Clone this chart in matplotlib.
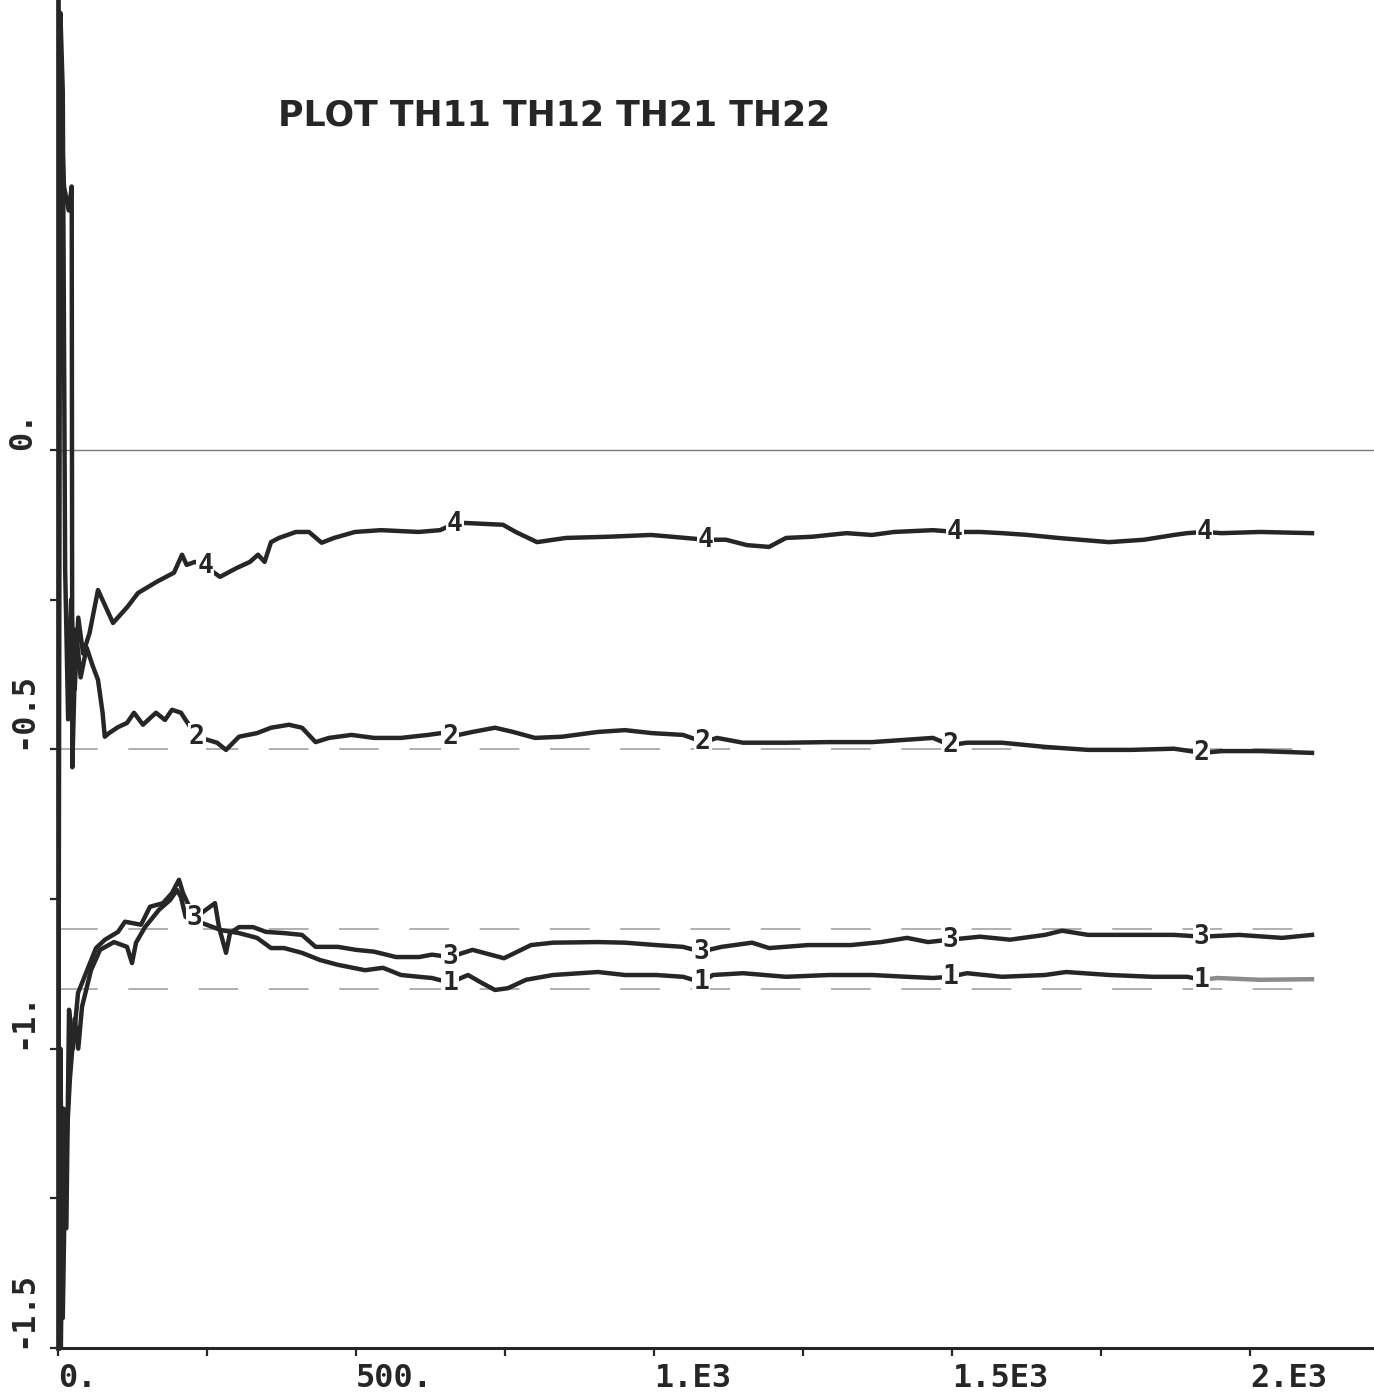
import numpy as np
import matplotlib
matplotlib.use('Agg')
from matplotlib import pyplot as plt

# Estimates of TH11..TH22 against iteration
th11_x = [0, 4, 8, 12, 20, 28, 34, 40.3, 55.4, 70.5, 94.0, 115.8, 124.2, 130.9, 146.0, 169.5,
          187.9, 199.7, 206.4, 214.1, 273.5, 303.7, 333.9, 357.4, 379.2, 409.4, 439.6, 469.8,
          515.1, 545.3, 575.5, 605.7, 627.5, 657.7, 687.9, 710.6, 733.2, 755.0, 785.2, 830.5,
          906.0, 951.3, 1003.4, 1048.7, 1078.9, 1098.9, 1149.3, 1221.5, 1293.6, 1365.8, 1424.5,
          1468.1, 1496.6, 1525.2, 1583.9, 1656.0, 1691.3, 1764.3, 1836.6, 1894.3, 1919.5, 1944.6,
          2016.8, 2104]
th11_y = [-1.58, -1.0, -1.45, -1.2, -1.05, -0.95, -1.0, -0.930, -0.869, -0.835, -0.822, -0.830,
          -0.857, -0.823, -0.797, -0.768, -0.752, -0.735, -0.747, -0.780, -0.802, -0.807, -0.815,
          -0.832, -0.832, -0.840, -0.852, -0.860, -0.869, -0.865, -0.877, -0.880, -0.882, -0.890,
          -0.877, -0.890, -0.902, -0.899, -0.885, -0.877, -0.872, -0.877, -0.877, -0.880, -0.889,
          -0.877, -0.874, -0.880, -0.877, -0.877, -0.880, -0.882, -0.880, -0.874, -0.880, -0.877,
          -0.872, -0.877, -0.880, -0.880, -0.885, -0.882, -0.885, -0.884]

th12_x = [0, 4, 10, 18, 23, 24, 30, 38, 48, 58, 67.1, 74.8, 78.5, 85.6, 100.7, 115.8, 127.5,
          142.6, 154.4, 164.4, 179.5, 191.3, 206.4, 214.1, 233.2, 266.8, 281.9, 303.7, 333.9,
          357.4, 387.6, 409.4, 432.2, 454.7, 492.4, 530.2, 575.5, 620.8, 642.6, 657.7, 695.5,
          733.2, 763.4, 800.3, 845.6, 906.0, 951.3, 996.6, 1048.7, 1083.1, 1105.7, 1149.3, 1221.5,
          1293.6, 1365.8, 1424.5, 1468.1, 1496.6, 1525.2, 1583.9, 1656.0, 1728.2, 1800.3, 1872.5,
          1919.5, 1953.0, 2016.8, 2104]
th12_y = [0.0, 0.60, 0.44, 0.40, 0.44, -0.53, -0.30, -0.38, -0.33, -0.36, -0.384, -0.439,
          -0.479, -0.473, -0.463, -0.456, -0.439, -0.459, -0.448, -0.439, -0.451, -0.434, -0.439,
          -0.451, -0.479, -0.489, -0.501, -0.479, -0.473, -0.464, -0.459, -0.464, -0.488, -0.481,
          -0.476, -0.481, -0.481, -0.476, -0.473, -0.479, -0.471, -0.464, -0.471, -0.481, -0.479,
          -0.471, -0.468, -0.473, -0.476, -0.488, -0.481, -0.489, -0.489, -0.488, -0.488, -0.484,
          -0.481, -0.493, -0.489, -0.489, -0.496, -0.501, -0.501, -0.499, -0.506, -0.503, -0.503,
          -0.506]

th21_x = [0, 4, 9, 14, 18.5, 25, 33.6, 63.8, 78.9, 100.7, 112.4, 139.3, 154.4, 176.2, 191.3,
          203.0, 209.7, 229.0, 263.4, 270.1, 281.9, 288.6, 303.7, 327.2, 349.0, 379.2, 409.4,
          432.2, 469.8, 500.0, 530.2, 567.1, 605.7, 627.5, 657.7, 695.5, 748.3, 793.6, 830.5,
          906.0, 951.3, 1003.4, 1048.7, 1078.9, 1113.3, 1164.4, 1193.0, 1258.4, 1330.5, 1380.9,
          1424.5, 1459.7, 1496.6, 1547.0, 1597.3, 1656.0, 1684.6, 1728.2, 1800.3, 1872.5, 1919.5,
          1981.5, 2053.7, 2104]
th21_y = [-1.2, -1.58, -1.1, -1.3, -0.935, -1.0, -0.907, -0.832, -0.818, -0.805, -0.788,
          -0.793, -0.763, -0.757, -0.740, -0.718, -0.740, -0.782, -0.757, -0.797, -0.840, -0.807,
          -0.797, -0.797, -0.805, -0.807, -0.810, -0.830, -0.830, -0.835, -0.838, -0.847, -0.847,
          -0.843, -0.847, -0.835, -0.849, -0.827, -0.823, -0.822, -0.823, -0.827, -0.830, -0.838,
          -0.830, -0.823, -0.832, -0.827, -0.827, -0.822, -0.815, -0.822, -0.818, -0.813, -0.818,
          -0.810, -0.803, -0.810, -0.810, -0.810, -0.813, -0.810, -0.815, -0.810]

th22_x = [0, 4, 8, 12, 17, 22, 28, 34, 42, 52.9, 67.1, 92.3, 116.6, 134.2, 166.1, 194.6, 208.1,
          215.8, 229.9, 247.7, 271.8, 300.3, 322.1, 335.6, 346.6, 357.4, 370.8, 399.3, 421.1,
          442.3, 463.1, 498.3, 541.9, 605.0, 641.0, 661.1, 682.9, 746.6, 768.0, 803.7, 852.3,
          923.7, 995.0, 1030.2, 1086.6, 1120.8, 1156.0, 1193.0, 1221.5, 1265.1, 1323.0, 1365.8,
          1402.7, 1468.1, 1506.7, 1547.0, 1583.9, 1627.5, 1677.9, 1763.4, 1822.1, 1872.5, 1894.3,
          1922.8, 1952.3, 2016.8, 2104]
th22_y = [-1.5, 0.73, 0.60, -0.20, -0.45, -0.25, -0.40, -0.28, -0.34, -0.306, -0.234, -0.289,
          -0.262, -0.239, -0.220, -0.205, -0.175, -0.192, -0.187, -0.195, -0.212, -0.197, -0.187,
          -0.175, -0.187, -0.154, -0.147, -0.137, -0.137, -0.155, -0.147, -0.137, -0.134, -0.137,
          -0.134, -0.125, -0.122, -0.125, -0.137, -0.154, -0.147, -0.145, -0.142, -0.145, -0.150,
          -0.150, -0.159, -0.162, -0.147, -0.145, -0.139, -0.142, -0.137, -0.134, -0.137, -0.137,
          -0.139, -0.142, -0.147, -0.154, -0.150, -0.142, -0.139, -0.137, -0.139, -0.137, -0.139]

# Curve number labels written along each trace
lab1_x = [658, 1079, 1497, 1919]
lab2_x = [233, 658, 1082, 1497, 1919]
lab3_x = [229, 658, 1079, 1497, 1919]
lab4_x = [247, 666, 1086, 1505, 1924]

# Reference (true) values shown dashed
true_vals = [-0.5, -0.8, -0.9]

xticks = [0, 500, 1000, 1500, 2000]
xticklabels = ['0.', '500.', '1.E3', '1.5E3', '2.E3']
yticks = [0, -0.5, -1.0, -1.5]
yticklabels = ['0.', '-0.5', '-1.', '-1.5']

W, H = 1374, 1396
fig = plt.figure(figsize=(W / 100, H / 100), dpi=100)
ax = fig.add_axes([58 / W, 48 / H, 1316 / W, 1348 / H])
ax.set_xlim(0, 2208)
ax.set_ylim(-1.5, 0.7515)

ink = '#262626'

# Zero line and dashed true values
ax.axhline(0, color='#7a7a7a', lw=1.0, zorder=1)
ax.hlines(true_vals, 0, 2120, colors='#9a9a9a', linestyles=(0, (26, 20)), lw=1.1, zorder=1)

curves = [(th11_x, th11_y, lab1_x, '1'),
          (th12_x, th12_y, lab2_x, '2'),
          (th21_x, th21_y, lab3_x, '3'),
          (th22_x, th22_y, lab4_x, '4')]

for cx, cy, lx, name in curves:
    cx = np.array(cx)
    cy = np.array(cy)
    if name == '1':
        # last stretch of trace 1 came out faint on the plotter
        cut = cx >= 1919.5
        ax.plot(cx[cx <= 1919.5], cy[cx <= 1919.5], color=ink, lw=3.2, zorder=3)
        ax.plot(cx[cut], cy[cut], color='#8c8c8c', lw=3.2, zorder=3)
    else:
        ax.plot(cx, cy, color=ink, lw=3.2, zorder=3)
    for xl in lx:
        ax.text(xl, np.interp(xl, cx, cy), name, ha='center', va='center', fontsize=19,
                family='DejaVu Sans Mono', fontweight='bold', color=ink, zorder=4,
                bbox=dict(facecolor='white', edgecolor='none', pad=0.5))

# Axes styling
for s in ['top', 'right']:
    ax.spines[s].set_visible(False)
ax.spines['left'].set_linewidth(3.4)
ax.spines['left'].set_color(ink)
ax.spines['bottom'].set_linewidth(2.2)
ax.spines['bottom'].set_color(ink)

ax.set_xticks(xticks)
ax.set_xticklabels(xticklabels, ha='left', fontsize=23, family='DejaVu Sans Mono',
                   fontweight='bold', color=ink)
ax.set_xticks([250, 750, 1250, 1750], minor=True)
ax.set_yticks(yticks)
ax.set_yticklabels(yticklabels, rotation=90, va='bottom', fontsize=23,
                   family='DejaVu Sans Mono', fontweight='bold', color=ink)
ax.set_yticks([-0.25, -0.75, -1.25], minor=True)
ax.tick_params(which='both', direction='out', length=6, width=1.6, color=ink)
ax.tick_params(axis='x', pad=5)
ax.tick_params(axis='y', pad=8)

fig.text(278 / W, 1 - 115 / H, 'PLOT TH11 TH12 TH21 TH22', ha='left', va='center',
         fontsize=25, fontweight='bold', color=ink)

plt.savefig('out.png', dpi=100)
